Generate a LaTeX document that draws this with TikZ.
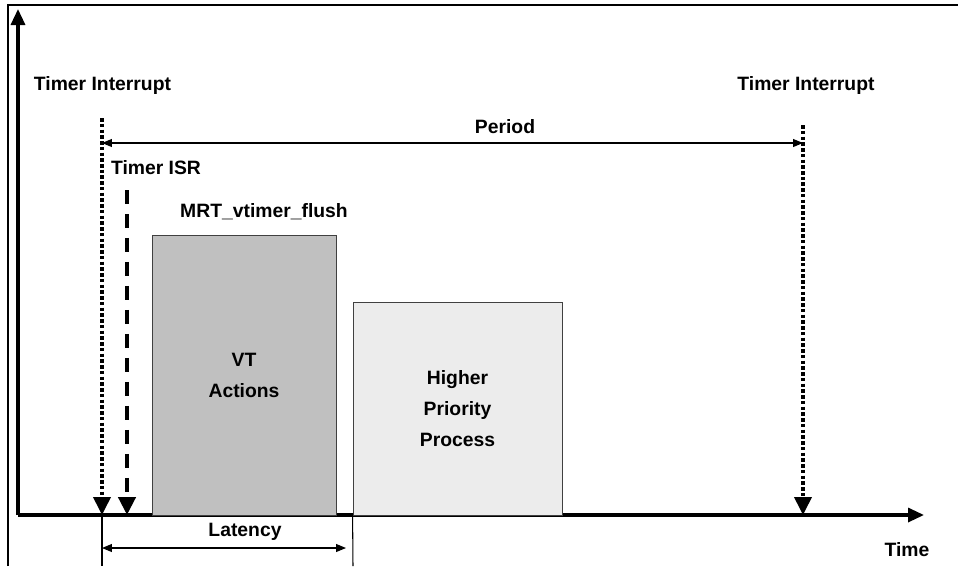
\documentclass[tikz,border=0pt]{standalone}
\usepackage{fontspec}
\setmainfont{Liberation Sans}
\usetikzlibrary{arrows.meta,positioning,calc}

\begin{document}
\begin{tikzpicture}[
  x=0.02cm, y=-0.02cm,
  lbl/.style={font=\bfseries\fontsize{11}{13}\selectfont, inner sep=0pt},
  box/.style={rectangle, draw=black!75, line width=0.5pt, align=center, inner sep=0pt,
    font=\bfseries\fontsize{11}{17.6}\selectfont},
  axis/.style={-{Triangle[length=0.32cm, width=0.28cm]}, line width=0.065cm},
  tick/.style={-{Triangle[length=0.36cm, width=0.34cm]}, line width=0.07cm},
  irq/.style={tick, line width=0.075cm, dash pattern=on 0.07cm off 0.045cm},
  isr/.style={tick, line width=0.085cm, dash pattern=on 0.28cm off 0.2cm},
  span/.style={{Triangle[length=0.2cm, width=0.16cm]}-{Triangle[length=0.2cm, width=0.16cm]}, line width=0.6pt},
  guide/.style={line width=0.6pt}
]
\useasboundingbox (0,0) rectangle (958,566);

% Frame
\draw[line width=0.04cm] (8,566) -- (8,5) -- (958,5);

% Axes
\coordinate (O) at (18,515);
\coordinate (ytop) at (18,9);
\coordinate (xend) at (924,515);
\draw[axis] (O) -- (ytop);
\draw[axis] (O) -- (xend);

% Boxes
\node[box, fill={rgb,255:red,192;green,192;blue,192}, minimum width=3.68cm, minimum height=5.6cm]
  (vt) at (244,375) {VT\\Actions};
\node[box, fill={rgb,255:red,236;green,236;blue,236}, minimum width=4.18cm, minimum height=4.26cm]
  (hpp) at (457.5,408.5) {Higher\\Priority\\Process};

% Labels
\node[lbl] (ti1) at (102.5,85) {Timer Interrupt};
\node[lbl] (ti2) at (806,85) {Timer Interrupt};
\node[lbl] (period) at (505,127) {Period};
\node[lbl] (isr) at (156,168) {Timer ISR};
\node[lbl] (flush) at (264,212) {MRT\_vtimer\_flush};
\node[lbl] (latency) at (245,532) {Latency};
\node[lbl] (time) at (907,550) {Time};

% Event arrows
\coordinate (ti1top) at (102,118);
\coordinate (ti1bot) at (102,515);
\coordinate (ti2top) at (803,125);
\coordinate (ti2bot) at (803,515);
\coordinate (isrtop) at (127,190);
\coordinate (isrbot) at (127,515);
\draw[irq] (ti1top) -- (ti1bot);
\draw[irq] (ti2top) -- (ti2bot);
\draw[isr] (isrtop) -- (isrbot);

% Period and latency
\draw[span] (102,143) -- (803,143);
\coordinate (latend) at (353,566);
\draw[guide] (ti1bot) -- (102,566);
\draw[guide] (hpp.south west) -- (latend);
\draw[span] (102,548) -- (346,548);

\end{tikzpicture}
\end{document}
